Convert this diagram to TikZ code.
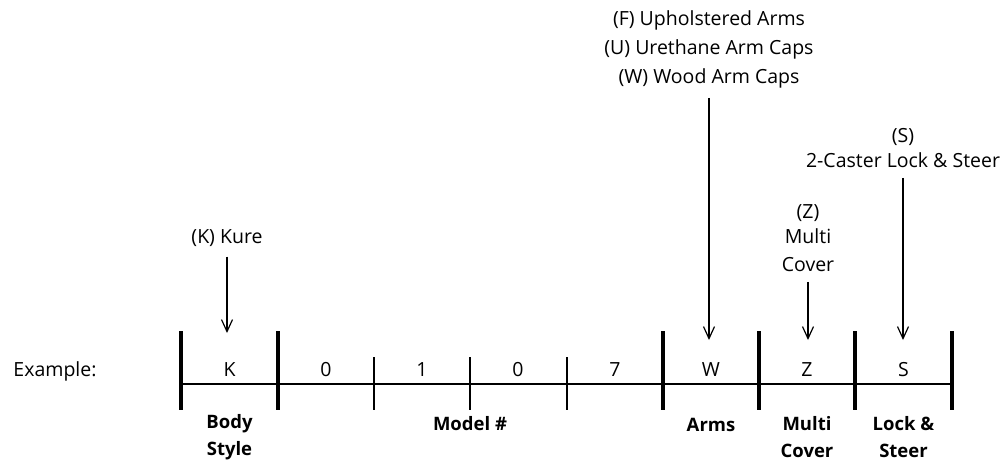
\documentclass[tikz,border=0pt]{standalone}
\usepackage{fontspec}
\setmainfont{Open Sans}
\usetikzlibrary{arrows.meta}

\begin{document}
\begin{tikzpicture}[
  x=1pt, y=-1pt,
  every node/.style={font=\fontsize{19.5}{29}\selectfont, inner sep=0pt, align=center},
  fieldname/.style={font=\fontsize{18.5}{27}\selectfont\bfseries},
  thickbar/.style={line width=4.5pt},
  thinbar/.style={line width=1.8pt},
  pointer/.style={line width=1.2pt, -{Straight Barb[length=12pt, width=11pt]}, shorten <=10pt}
]
  \useasboundingbox (0,0) rectangle (1000,461);

  % base line with separators
  \draw[thinbar] (181,384) -- (952,384);
  \draw[thickbar] (181,331) -- (181,410);
  \draw[thickbar] (278,331) -- (278,410);
  \draw[thinbar]  (374,357) -- (374,410);
  \draw[thinbar]  (470,357) -- (470,410);
  \draw[thinbar]  (567,357) -- (567,410);
  \draw[thickbar] (663,331) -- (663,410);
  \draw[thickbar] (759,331) -- (759,410);
  \draw[thickbar] (855,331) -- (855,410);
  \draw[thickbar] (952,331) -- (952,410);

  % code characters
  \node (example) at (55,371) {Example:};
  \node (chK)  at (229.5,370) {K};
  \node (chA)  at (326,370) {0};
  \node (chB)  at (422,370) {1};
  \node (chC)  at (518,370) {0};
  \node (chD)  at (615,370) {7};
  \node (chW)  at (711,370) {W};
  \node (chZ)  at (807,370) {Z};
  \node (chS)  at (903.5,370) {S};

  % field names
  \node[fieldname] (bodyStyle) at (229.5,437) {Body\\Style};
  \node[fieldname] (modelNo)   at (470,424) {Model \#};
  \node[fieldname] (arms)      at (711,425) {Arms};
  \node[fieldname] (multiCov)  at (807,437) {Multi\\Cover};
  \node[fieldname] (lockSteer) at (903.5,437) {Lock \&\\Steer};

  % options
  \node (optK) at (227,238) {(K) Kure};
  \node (optW) at (709,49) {(F) Upholstered Arms\\(U) Urethane Arm Caps\\(W) Wood Arm Caps};
  \node[font=\fontsize{19.5}{25}\selectfont] (optS) at (903,148) {(S)\\2-Caster Lock \& Steer};
  \node[font=\fontsize{19.5}{25}\selectfont] (optZ) at (808,238) {(Z)\\Multi\\[3pt]Cover};

  \coordinate (tipK) at (227,333);
  \coordinate (tipW) at (709,340);
  \coordinate (tipZ) at (808,340);
  \coordinate (tipS) at (903,340);

  \draw[pointer] (optK.south) -- (tipK);
  \draw[pointer] (optW.south) -- (tipW);
  \draw[pointer] (optZ.south) -- (tipZ);
  \draw[pointer] (optS.south) -- (tipS);
\end{tikzpicture}
\end{document}
